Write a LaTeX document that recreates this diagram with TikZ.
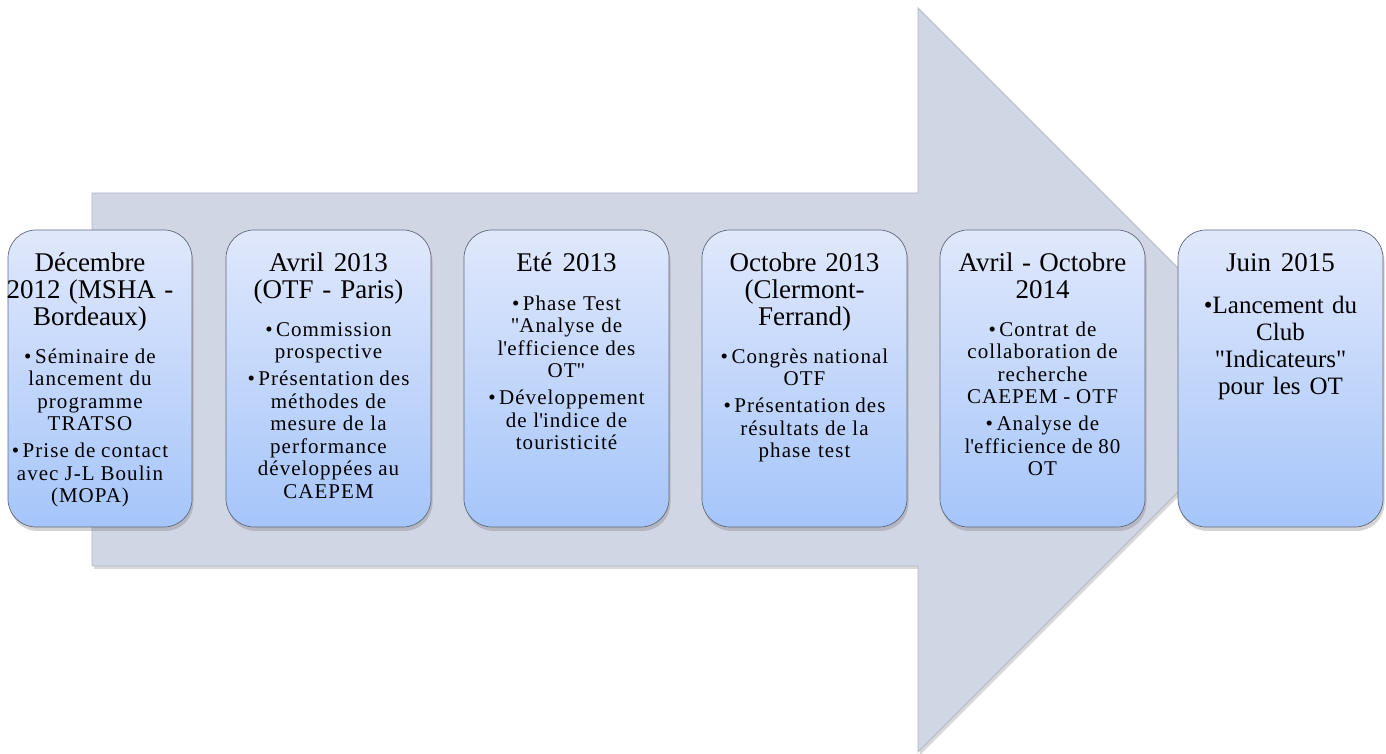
\documentclass[tikz,border=0pt]{standalone}
\usepackage{fontspec}
\setmainfont{Liberation Serif}
\usetikzlibrary{shadows}

\definecolor{arrowfill}{RGB}{208,214,228}
\definecolor{arrowline}{RGB}{178,184,200}
\definecolor{boxtop}{RGB}{224,232,251}
\definecolor{boxbottom}{RGB}{165,197,250}
\definecolor{boxline}{RGB}{96,104,122}

\newcommand{\periodtitle}[1]{{\fontsize{27}{27}\selectfont\spaceskip=7pt plus 1pt minus 1pt\relax\strut #1\par}\vspace{15pt}}
\newcommand{\periodbody}{\fontsize{21}{22.5}\selectfont\addfontfeature{LetterSpace=5}\spaceskip=4pt plus 1pt minus 1pt\relax}
\newcommand{\nextitem}{\par\vspace{4.5pt}}
\newcommand{\dq}{\textquotedbl}
\newcommand{\sq}{\textquotesingle}

\tikzset{
  periodbox/.style={draw=boxline, line width=0.7pt, rounded corners=28pt,
    top color=boxtop, bottom color=boxbottom, minimum width=205pt,
    minimum height=297pt, inner sep=0pt,
    drop shadow={opacity=0.35, shadow xshift=1.5pt, shadow yshift=-4pt}},
  periodtext/.style={anchor=north, inner sep=0pt, text width=225pt, align=center}
}

\begin{document}
\begin{tikzpicture}[x=1pt,y=1pt]
\useasboundingbox (0,0) rectangle (1386,754);
% big arrow behind the time line
\draw[arrowline, line width=0.8pt, fill=arrowfill,
  drop shadow={opacity=0.3, shadow xshift=2pt, shadow yshift=-3pt}]
  (92,561)--(918,561)--(918,746)--(1290,374)--(918,2)--(918,188)--(92,188)--cycle;

% boxes
\node[periodbox, minimum width=184pt] (b1) at (100,375.5) {};
\node[periodbox] (b2) at (328.5,375.5) {};
\node[periodbox] (b3) at (566.5,375.5) {};
\node[periodbox] (b4) at (804.5,375.5) {};
\node[periodbox] (b5) at (1042.5,375.5) {};
\node[periodbox] (b6) at (1280.5,375.5) {};

% texts
\node[periodtext] (t1) at ([xshift=-10pt,yshift=-23pt]b1.north) {%
  \periodtitle{Décembre\\ 2012 (MSHA -\\ Bordeaux)}
  \periodbody •\,Séminaire de\\ lancement du\\ programme\\ TRATSO\nextitem
  •\,Prise de contact\\ avec J-L Boulin\\ (MOPA)\par};
\node[periodtext] (t2) at ([yshift=-23pt]b2.north) {%
  \periodtitle{Avril 2013\\ (OTF - Paris)}
  \periodbody •\,Commission\\ prospective\nextitem
  •\,Présentation des\\ méthodes de\\ mesure de la\\ performance\\ développées au\\ CAEPEM\par};
\node[periodtext] (t3) at ([yshift=-23pt]b3.north) {%
  \periodtitle{Eté 2013}
  \periodbody •\,Phase Test\\ \dq Analyse de\\ l\sq efficience des\\ OT\dq\nextitem
  •\,Développement\\ de l\sq indice de\\ touristicité\par};
\node[periodtext] (t4) at ([yshift=-23pt]b4.north) {%
  \periodtitle{Octobre 2013\\ (Clermont-\\ Ferrand)}
  \periodbody •\,Congrès national\\ OTF\nextitem
  •\,Présentation des\\ résultats de la\\ phase test\par};
\node[periodtext] (t5) at ([yshift=-23pt]b5.north) {%
  \periodtitle{Avril - Octobre\\ 2014}
  \periodbody •\,Contrat de\\ collaboration de\\ recherche\\ CAEPEM - OTF\nextitem
  •\,Analyse de\\ l\sq efficience de 80\\ OT\par};
\node[periodtext] (t6) at ([yshift=-23pt]b6.north) {%
  \periodtitle{Juin 2015}
  \fontsize{25}{27}\selectfont\spaceskip=6.5pt plus 1pt minus 1pt\relax
  •Lancement du\\ Club\\ \dq Indicateurs\dq\\ pour les OT\par};
\end{tikzpicture}
\end{document}
